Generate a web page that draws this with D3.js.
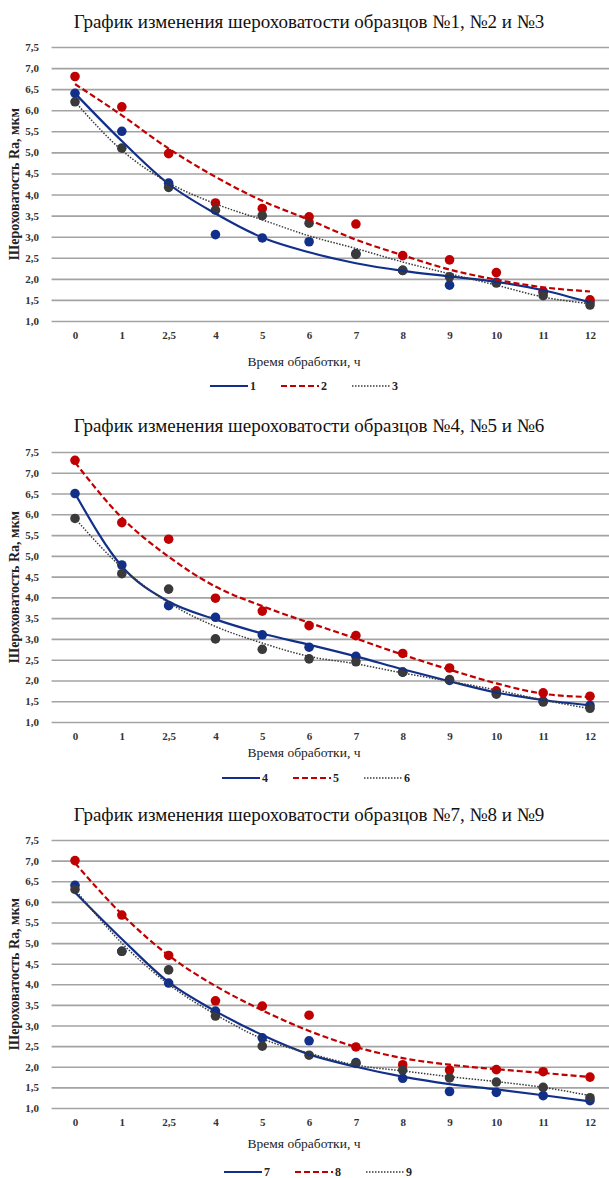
<!DOCTYPE html>
<html>
<head>
<meta charset="utf-8">
<script src="https://cdn.jsdelivr.net/npm/d3@7"></script>
<style>
  body { margin: 0; background: #fff; }
  svg { display: block; }
</style>
</head>
<body>
<div id="chart"></div>
<script>
// categories on the x axis (hours of treatment)
var categories = ["0", "1", "2,5", "4", "5", "6", "7", "8", "9", "10", "11", "12"];
var yTicks = [1.0, 1.5, 2.0, 2.5, 3.0, 3.5, 4.0, 4.5, 5.0, 5.5, 6.0, 6.5, 7.0, 7.5];

var titles = [
  "График изменения шероховатости образцов №1, №2 и №3",
  "График изменения шероховатости образцов №4, №5 и №6",
  "График изменения шероховатости образцов №7, №8 и №9"
];
var yTitle = "Шероховатость Ra, мкм";
var xTitle = "Время обработки, ч";
var legendNames = [["1", "2", "3"], ["4", "5", "6"], ["7", "8", "9"]];

// measured points
var s1 = [6.4, 5.5, 4.27, 3.05, 2.97, 2.88, 2.6, 2.2, 1.85, 1.92, 1.68, 1.45];
var s2 = [6.8, 6.08, 4.97, 3.8, 3.67, 3.47, 3.3, 2.55, 2.45, 2.15, 1.7, 1.5];
var s3 = [6.2, 5.1, 4.17, 3.63, 3.5, 3.32, 2.58, 2.2, 2.05, 1.9, 1.6, 1.38];
var s4 = [6.5, 4.78, 3.8, 3.52, 3.1, 2.8, 2.58, 2.2, 2.0, 1.7, 1.5, 1.4];
var s5 = [7.3, 5.8, 5.4, 3.98, 3.67, 3.32, 3.08, 2.65, 2.3, 1.75, 1.7, 1.62];
var s6 = [5.9, 4.57, 4.2, 3.0, 2.75, 2.52, 2.45, 2.2, 2.02, 1.67, 1.48, 1.33];
var s7 = [6.4, 4.8, 4.03, 3.35, 2.7, 2.63, 2.1, 1.72, 1.4, 1.38, 1.3, 1.18];
var s8 = [7.0, 5.68, 4.7, 3.6, 3.47, 3.25, 2.48, 2.05, 1.92, 1.93, 1.88, 1.75];
var s9 = [6.3, 4.8, 4.35, 3.23, 2.5, 2.28, 2.08, 1.92, 1.73, 1.63, 1.5, 1.25];

// trend lines at each category
var t1 = [6.4, 5.27, 4.25, 3.55, 2.98, 2.63, 2.37, 2.19, 2.06, 1.93, 1.73, 1.44];
var t2 = [6.62, 5.88, 5.09, 4.42, 3.85, 3.4, 2.93, 2.56, 2.22, 1.98, 1.8, 1.7];
var t3 = [6.2, 5.05, 4.28, 3.78, 3.4, 3.02, 2.72, 2.4, 2.12, 1.85, 1.57, 1.41];
var t4 = [6.5, 4.75, 3.9, 3.47, 3.13, 2.86, 2.58, 2.27, 1.98, 1.71, 1.53, 1.4];
var t5 = [7.25, 5.92, 4.98, 4.26, 3.79, 3.39, 3.01, 2.62, 2.26, 1.93, 1.68, 1.6];
var t6 = [5.9, 4.72, 3.87, 3.3, 2.9, 2.58, 2.4, 2.18, 1.98, 1.77, 1.53, 1.32];
var t7 = [6.23, 5.1, 4.05, 3.35, 2.77, 2.3, 2.0, 1.76, 1.58, 1.45, 1.31, 1.16];
var t8 = [6.94, 5.7, 4.7, 3.96, 3.37, 2.87, 2.48, 2.21, 2.05, 1.94, 1.85, 1.75];
var t9 = [6.3, 5.0, 4.0, 3.27, 2.68, 2.33, 2.04, 1.9, 1.76, 1.64, 1.5, 1.3];

var colors = ["#12308a", "#c00000", "#3a3a3a"];
var dashes = [null, "6,3", "1.5,1.5"];
var widths = [2.2, 2.2, 1.5];

var W = 609, H = 1178;
var left = 51.6, right = 613.4;
var serif = "'Liberation Serif', 'Times New Roman', serif";

var svg = d3.select("#chart").append("svg")
  .attr("width", W)
  .attr("height", H)
  .style("font-family", serif);

var charts = [
  { title: titles[0], names: legendNames[0], pts: [s1, s2, s3], trends: [t1, t2, t3],
    titleY: 28, top: 47, bottom: 321, xTitleY: 366, legendY: 386, legendX: 210 },
  { title: titles[1], names: legendNames[1], pts: [s4, s5, s6], trends: [t4, t5, t6],
    titleY: 432, top: 452, bottom: 722, xTitleY: 757, legendY: 778, legendX: 222 },
  { title: titles[2], names: legendNames[2], pts: [s7, s8, s9], trends: [t7, t8, t9],
    titleY: 821, top: 840, bottom: 1108, xTitleY: 1148, legendY: 1172, legendX: 224 }
];

var x = d3.scalePoint()
  .domain(categories)
  .range([left, right])
  .padding(0.5);

var fmt = function (d) { return d3.format(".1f")(d).replace(".", ","); };

charts.forEach(function (c) {
  var y = d3.scaleLinear()
    .domain([1, 7.5])
    .range([c.bottom, c.top]);

  var g = svg.append("g");

  g.append("text")
    .attr("x", 309)
    .attr("y", c.titleY)
    .attr("text-anchor", "middle")
    .style("font-size", "19px")
    .attr("fill", "#111")
    .text(c.title);

  // gridlines + y labels
  var ya = g.append("g")
    .attr("transform", "translate(" + left + ",0)")
    .call(d3.axisLeft(y).tickValues(yTicks).tickSize(-(right - left)).tickPadding(12.6).tickFormat(fmt));
  ya.select(".domain").remove();
  ya.selectAll(".tick line").attr("stroke", "#a3a3a3").attr("stroke-width", 1.6);
  ya.selectAll(".tick text")
    .style("font-family", serif)
    .style("font-size", "11px")
    .style("font-weight", "bold")
    .attr("fill", "#333");

  // x labels
  var xa = g.append("g")
    .attr("transform", "translate(0," + c.bottom + ")")
    .call(d3.axisBottom(x).tickSize(0).tickPadding(10));
  xa.select(".domain").remove();
  xa.selectAll(".tick text")
    .style("font-family", serif)
    .style("font-size", "11px")
    .style("font-weight", "bold")
    .attr("fill", "#333");

  g.append("text")
    .attr("transform", "translate(19," + ((c.top + c.bottom) / 2) + ") rotate(-90)")
    .attr("text-anchor", "middle")
    .style("font-size", "14px")
    .style("font-weight", "bold")
    .attr("fill", "#222")
    .text(yTitle);

  g.append("text")
    .attr("x", 304)
    .attr("y", c.xTitleY)
    .attr("text-anchor", "middle")
    .style("font-size", "13.5px")
    .attr("fill", "#222")
    .text(xTitle);

  // points
  c.pts.forEach(function (vals, k) {
    g.selectAll(null)
      .data(vals)
      .enter().append("circle")
      .attr("cx", function (d, i) { return x(categories[i]); })
      .attr("cy", function (d) { return y(d); })
      .attr("r", 4.8)
      .attr("fill", colors[k]);
  });

  // trend lines
  var line = d3.line()
    .x(function (d, i) { return x(categories[i]); })
    .y(function (d) { return y(d); })
    .curve(d3.curveMonotoneX);

  c.trends.forEach(function (vals, k) {
    g.append("path")
      .datum(vals)
      .attr("fill", "none")
      .attr("stroke", colors[k])
      .attr("stroke-width", widths[k])
      .attr("stroke-dasharray", dashes[k])
      .attr("d", line);
  });

  // legend
  c.names.forEach(function (n, k) {
    var lx = c.legendX + k * 71;
    g.append("line")
      .attr("x1", lx).attr("x2", lx + 38)
      .attr("y1", c.legendY).attr("y2", c.legendY)
      .attr("stroke", colors[k])
      .attr("stroke-width", widths[k])
      .attr("stroke-dasharray", dashes[k]);
    g.append("text")
      .attr("x", lx + 40)
      .attr("y", c.legendY + 4)
      .style("font-size", "12px")
      .style("font-weight", "bold")
      .attr("fill", "#222")
      .text(n);
  });
});
</script>
</body>
</html>
